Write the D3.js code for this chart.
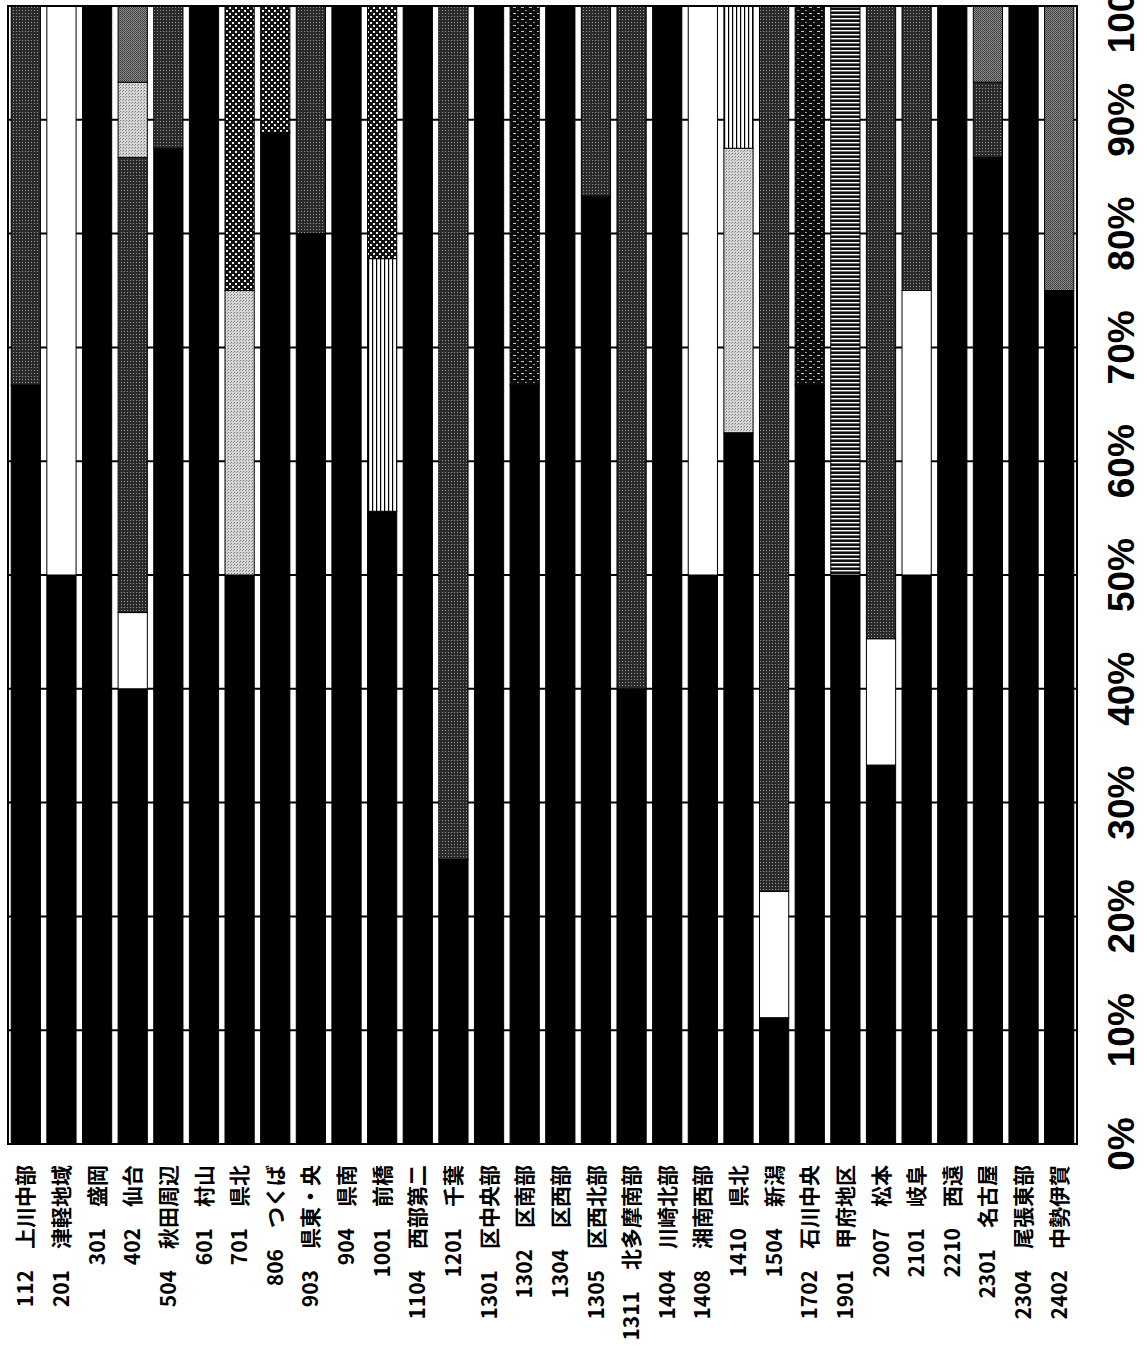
<!DOCTYPE html>
<html>
<head>
<meta charset="utf-8">
<script src="https://cdn.jsdelivr.net/npm/d3@7"></script>
<style>
  body { margin: 0; background: #fff; }
</style>
</head>
<body>
<div id="chart"></div>
<script>
// categories (code + area name)
const codes = ["112", "201", "301", "402", "504", "601", "701", "806", "903", "904",
  "1001", "1104", "1201", "1301", "1302", "1304", "1305", "1311", "1404", "1408",
  "1410", "1504", "1702", "1901", "2007", "2101", "2210", "2301", "2304", "2402"];
const names = ["上川中部", "津軽地域", "盛岡", "仙台", "秋田周辺", "村山", "県北", "つくば", "県東・央", "県南",
  "前橋", "西部第二", "千葉", "区中央部", "区南部", "区西部", "区西北部", "北多摩南部", "川崎北部", "湘南西部",
  "県北", "新潟", "石川中央", "甲府地区", "松本", "岐阜", "西遠", "名古屋", "尾張東部", "中勢伊賀"];

const ticks = [0, 10, 20, 30, 40, 50, 60, 70, 80, 90, 100];

// share (%) of each series per category, stacked from 0% upward
const sBlack = [66.7, 50, 100, 40, 87.5, 100, 50, 88.9, 80, 100,
  55.6, 100, 25, 100, 66.7, 100, 83.3, 40, 100, 50,
  62.5, 11.1, 66.7, 50, 33.3, 50, 100, 86.7, 100, 75];
const sWhite = [0, 50, 0, 6.7, 0, 0, 0, 0, 0, 0,
  0, 0, 0, 0, 0, 0, 0, 0, 0, 50,
  0, 11.1, 0, 0, 11.1, 25, 0, 0, 0, 0];
const sDark = [33.3, 0, 0, 40, 12.5, 0, 0, 0, 20, 0,
  0, 0, 75, 0, 0, 0, 16.7, 60, 0, 0,
  0, 77.8, 0, 0, 55.6, 25, 0, 6.6, 0, 0];
const sLight = [0, 0, 0, 6.6, 0, 0, 25, 0, 0, 0,
  0, 0, 0, 0, 0, 0, 0, 0, 0, 0,
  25, 0, 0, 0, 0, 0, 0, 0, 0, 0];
const sVert = [0, 0, 0, 0, 0, 0, 0, 0, 0, 0,
  22.2, 0, 0, 0, 0, 0, 0, 0, 0, 0,
  12.5, 0, 0, 0, 0, 0, 0, 0, 0, 0];
const sCheck = [0, 0, 0, 0, 0, 0, 25, 11.1, 0, 0,
  22.2, 0, 0, 0, 0, 0, 0, 0, 0, 0,
  0, 0, 0, 0, 0, 0, 0, 0, 0, 0];
const sBrick = [0, 0, 0, 0, 0, 0, 0, 0, 0, 0,
  0, 0, 0, 0, 33.3, 0, 0, 0, 0, 0,
  0, 0, 33.3, 0, 0, 0, 0, 0, 0, 0];
const sHoriz = [0, 0, 0, 0, 0, 0, 0, 0, 0, 0,
  0, 0, 0, 0, 0, 0, 0, 0, 0, 0,
  0, 0, 0, 50, 0, 0, 0, 0, 0, 0];
const sGrid = [0, 0, 0, 6.7, 0, 0, 0, 0, 0, 0,
  0, 0, 0, 0, 0, 0, 0, 0, 0, 0,
  0, 0, 0, 0, 0, 0, 0, 6.7, 0, 25];

const keys = ["black", "white", "dark", "light", "vert", "check", "brick", "horiz", "grid"];
const rows = codes.map((c, i) => ({
  code: c, name: names[i],
  black: sBlack[i], white: sWhite[i], dark: sDark[i], light: sLight[i], vert: sVert[i],
  check: sCheck[i], brick: sBrick[i], horiz: sHoriz[i], grid: sGrid[i]
}));

const width = 1147, height = 1352;
const plot = { left: 8, right: 1077, top: 6, bottom: 1144 };

const svg = d3.select("#chart").append("svg")
  .attr("width", width)
  .attr("height", height);

// fill textures, imitating the printed hatchings
const defs = svg.append("defs");
function pattern(id, w, h, bg, marks) {
  const p = defs.append("pattern").attr("id", id)
    .attr("patternUnits", "userSpaceOnUse").attr("width", w).attr("height", h);
  p.append("rect").attr("width", w).attr("height", h).attr("fill", bg);
  marks.forEach(m => p.append("rect")
    .attr("x", m[0]).attr("y", m[1]).attr("width", m[2]).attr("height", m[3]).attr("fill", m[4]));
}
pattern("p-dark", 3, 3, "#2a2a2a", [[1, 1, 1, 1, "#999"]]);
pattern("p-light", 3, 3, "#d6d6d6", [[0, 0, 1, 1, "#777"], [2, 1, 1, 1, "#999"]]);
pattern("p-grid", 2, 2, "#8a8a8a", [[0, 0, 1, 1, "#3a3a3a"], [1, 1, 1, 1, "#4a4a4a"]]);
pattern("p-check", 6, 6, "#111", [[1, 1, 2, 2, "#eee"], [4, 4, 2, 2, "#eee"]]);
pattern("p-vert", 4, 4, "#fff", [[0, 0, 1.2, 4, "#000"]]);
pattern("p-horiz", 4, 4, "#111", [[0, 2, 4, 1.4, "#fff"]]);
pattern("p-brick", 8, 6, "#0a0a0a", [[1, 1, 3, 1, "#ccc"], [5, 4, 2, 1, "#999"]]);

const fills = {
  black: "#000", white: "#fff", dark: "url(#p-dark)", light: "url(#p-light)",
  vert: "url(#p-vert)", check: "url(#p-check)", brick: "url(#p-brick)",
  horiz: "url(#p-horiz)", grid: "url(#p-grid)"
};

const x = d3.scaleBand().domain(codes).range([plot.left, plot.right])
  .paddingInner(0.18).paddingOuter(0.09);
const y = d3.scaleLinear().domain([0, 100]).range([plot.bottom, plot.top]);

// gridlines behind the bars
svg.append("g").selectAll("line").data(ticks).join("line")
  .attr("x1", plot.left).attr("x2", plot.right)
  .attr("y1", d => y(d)).attr("y2", d => y(d))
  .attr("stroke", "#000").attr("stroke-width", 2);

const stacked = d3.stack().keys(keys)(rows);

svg.append("g").selectAll("g").data(stacked).join("g")
  .attr("fill", d => fills[d.key])
  .selectAll("rect")
  .data(d => d.filter(s => s[1] - s[0] > 0))
  .join("rect")
  .attr("x", d => x(d.data.code))
  .attr("width", x.bandwidth())
  .attr("y", d => y(d[1]))
  .attr("height", d => y(d[0]) - y(d[1]))
  .attr("stroke", "#000")
  .attr("stroke-width", 1);

// plot frame
svg.append("rect")
  .attr("x", plot.left).attr("y", plot.top)
  .attr("width", plot.right - plot.left).attr("height", plot.bottom - plot.top)
  .attr("fill", "none").attr("stroke", "#000").attr("stroke-width", 2);

// percentage labels, turned to read bottom-to-top
svg.append("g").selectAll("text").data(ticks).join("text")
  .attr("transform", d => `translate(1134,${y(d)}) rotate(-90)`)
  .attr("text-anchor", "middle")
  .style("font-family", "'Liberation Sans', Arial, sans-serif")
  .style("font-size", "37px")
  .style("font-weight", "bold")
  .text(d => d + "%");

// category labels
svg.append("g").selectAll("text").data(rows).join("text")
  .attr("transform", d => `translate(${x(d.code) + x.bandwidth() / 2},1165) rotate(-90)`)
  .attr("text-anchor", "end")
  .attr("dy", "0.36em")
  .style("font-family", "'Noto Sans CJK JP', sans-serif")
  .style("font-size", "21px")
  .style("font-weight", "bold")
  .text(d => d.code + "\u3000" + d.name);
</script>
</body>
</html>
